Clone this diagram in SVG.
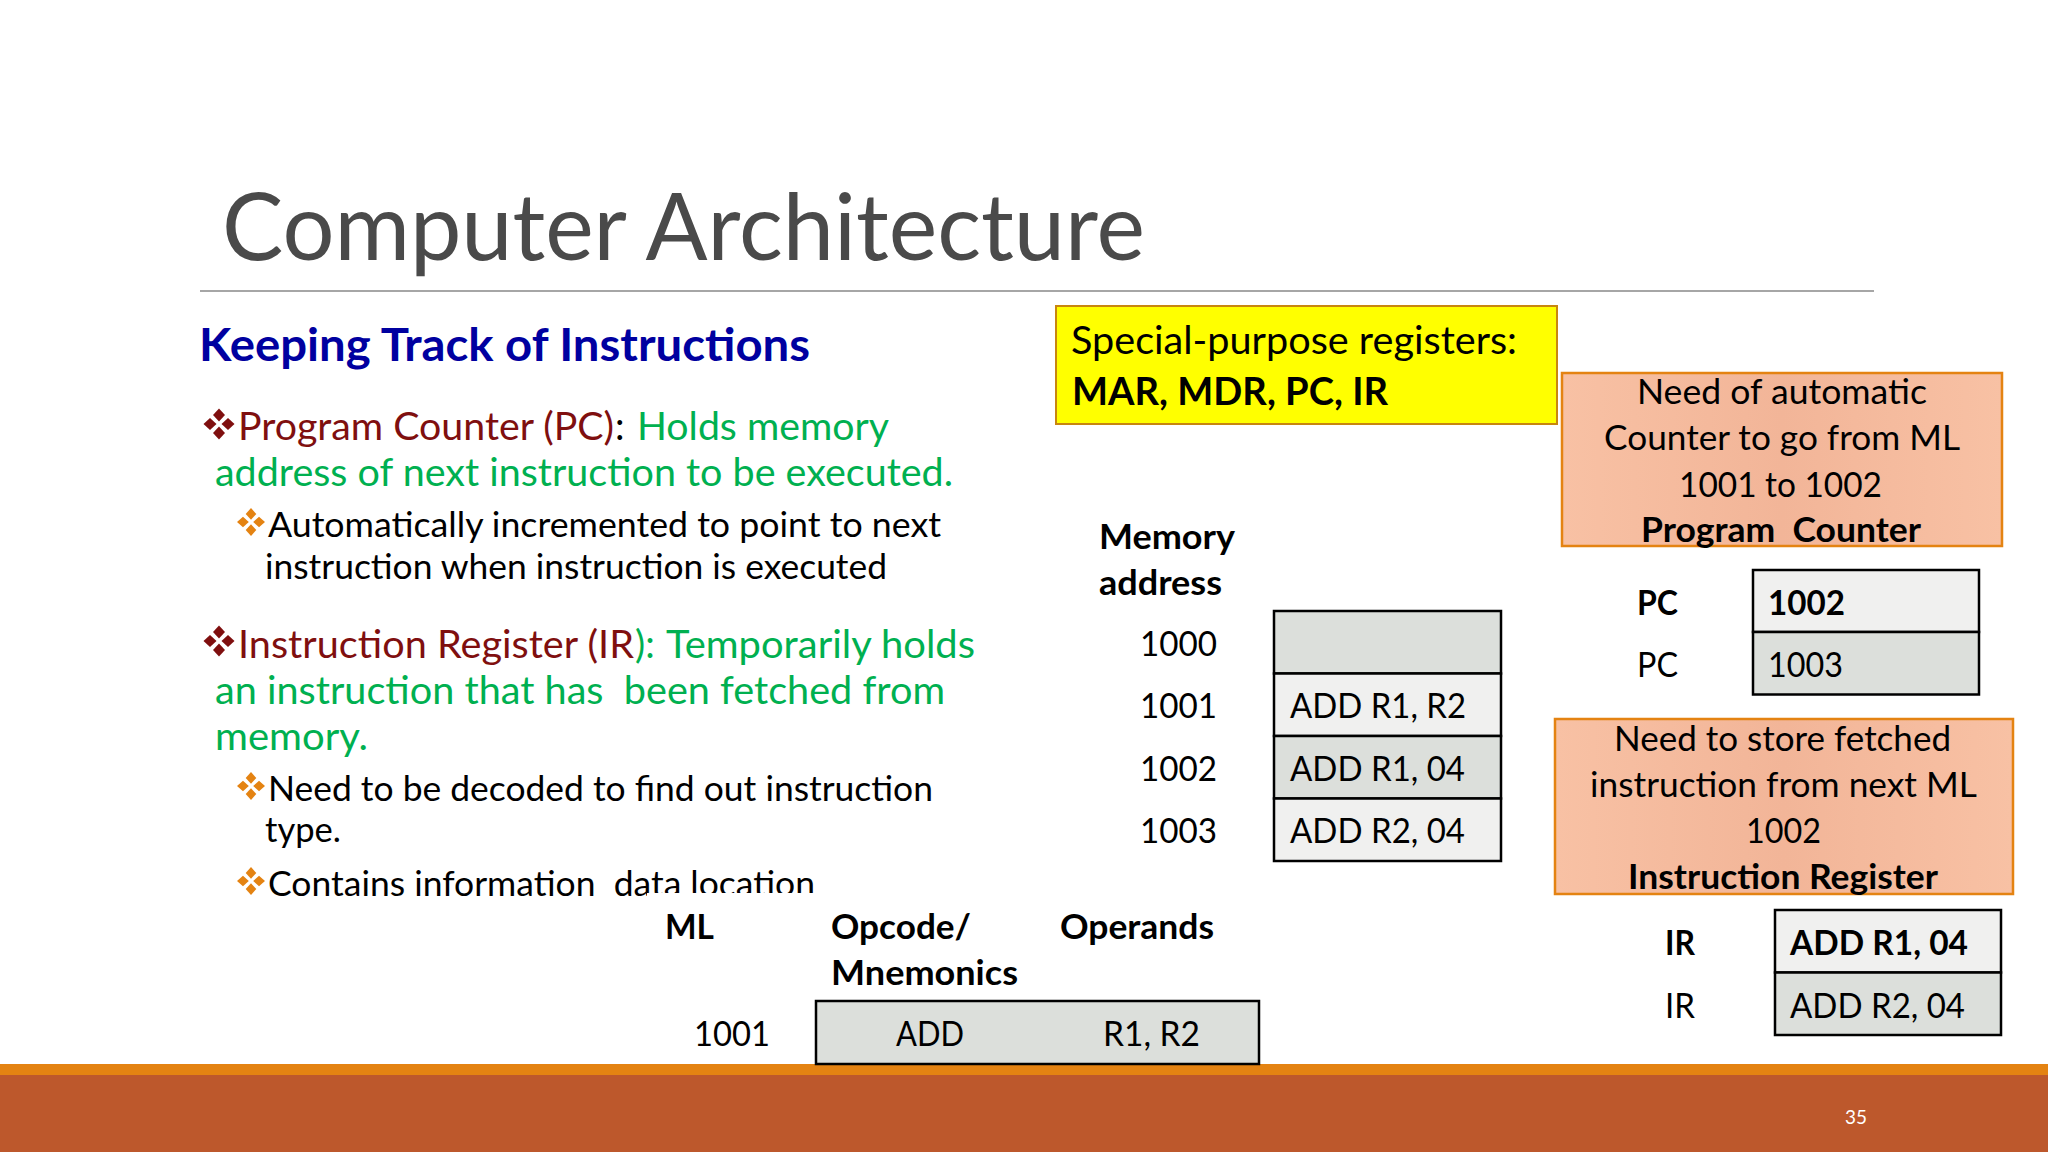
<svg xmlns="http://www.w3.org/2000/svg" width="2048" height="1152" viewBox="0 0 2048 1152">
<style>
text{font-family:"Lato","Carlito","Open Sans",sans-serif;fill:#000;font-size:35px}
.b{font-weight:700}
.t{font-size:94px;font-weight:400;fill:#4a4a4a}
.h{font-size:45px;font-weight:700;fill:#0000a0}
.r{font-size:38px;fill:#7f0f0f}
.g{font-size:38px;fill:#00b050}
.k{font-size:38px;fill:#000}
.s{font-size:35px}
.c{stroke:#000;stroke-width:2.5}
.l{fill:#dcdfdb}
.w{fill:#f0f0ef}
.sal{fill:url(#sg);stroke:#e48312;stroke-width:2.5}
.n{font-size:20px;fill:#fff}
</style>
<defs>
<linearGradient id="sg" x1="0" y1="0" x2="1" y2="0">
<stop offset="0" stop-color="#f8c1a4"/><stop offset="0.5" stop-color="#f2b598"/><stop offset="1" stop-color="#f8c1a4"/>
</linearGradient>
<g id="d1"><polygon points="0,-15.5 6,-9 0,-2.5 -6,-9"/><polygon points="0,15.5 6,9 0,2.5 -6,9"/><polygon points="-15.5,0 -9,-6 -2.5,0 -9,6"/><polygon points="15.5,0 9,-6 2.5,0 9,6"/></g>
<g id="d2"><polygon points="0,-14 5.3,-8 0,-2.2 -5.3,-8"/><polygon points="0,14 5.3,8 0,2.2 -5.3,8"/><polygon points="-14,0 -8,-5.3 -2.2,0 -8,5.3"/><polygon points="14,0 8,-5.3 2.2,0 8,5.3"/></g>
</defs>
<rect width="2048" height="1152" fill="#fff"/>
<g id="title">
<text class="t" x="222" y="260" textLength="923" lengthAdjust="spacingAndGlyphs">Computer Architecture</text>
<rect x="200" y="290" width="1674" height="2" fill="#a6a6a6"/>
</g>
<g id="body">
<text class="h" x="199" y="361" textLength="611" lengthAdjust="spacingAndGlyphs">Keeping Track of Instructions</text>
<use href="#d1" x="219" y="424" fill="#7f0f0f"/>
<text class="r" x="238" y="439.5" textLength="376" lengthAdjust="spacingAndGlyphs">Program Counter (PC)</text>
<text class="k" x="615" y="439.5">:</text>
<text class="g" x="637" y="439.5" textLength="252" lengthAdjust="spacingAndGlyphs">Holds memory</text>
<text class="g" x="215" y="485.5" textLength="738" lengthAdjust="spacingAndGlyphs">address of next instruction to be executed.</text>
<use href="#d2" x="251" y="522" fill="#e48312"/>
<text class="s" x="268" y="536.5" textLength="673" lengthAdjust="spacingAndGlyphs">Automatically incremented to point to next</text>
<text class="s" x="265" y="578.5" textLength="622" lengthAdjust="spacingAndGlyphs">instruction when instruction is executed</text>
<use href="#d1" x="219" y="641" fill="#7f0f0f"/>
<text class="r" x="238" y="657.5" textLength="396" lengthAdjust="spacingAndGlyphs">Instruction Register (IR</text>
<text class="g" x="635" y="657.5">):</text>
<text class="g" x="666" y="657.5" textLength="309" lengthAdjust="spacingAndGlyphs">Temporarily holds</text>
<text class="g" x="215" y="703.5" xml:space="preserve" textLength="730" lengthAdjust="spacingAndGlyphs">an instruction that has  been fetched from</text>
<text class="g" x="215" y="749.5" textLength="153" lengthAdjust="spacingAndGlyphs">memory.</text>
<use href="#d2" x="251" y="786" fill="#e48312"/>
<text class="s" x="268" y="800.5" textLength="665" lengthAdjust="spacingAndGlyphs">Need to be decoded to find out instruction</text>
<text class="s" x="265" y="841.5" textLength="76" lengthAdjust="spacingAndGlyphs">type.</text>
<use href="#d2" x="251" y="881" fill="#e48312"/>
<text class="s" x="268" y="895.5" xml:space="preserve" textLength="547" lengthAdjust="spacingAndGlyphs">Contains information  data location</text>
</g>
<g id="footer">
<rect x="0" y="1075" width="2048" height="77" fill="#bd582c"/>
<rect x="0" y="1064" width="2048" height="11" fill="#e48312"/>
<text class="n" x="1845" y="1124" textLength="22" lengthAdjust="spacingAndGlyphs">35</text>
</g>
<g id="ml-table">
<rect x="647" y="893" width="620" height="171" fill="#fff"/>
<text class="s b" x="665" y="938.5" textLength="49" lengthAdjust="spacingAndGlyphs">ML</text>
<text class="s b" x="831" y="938.5" textLength="140" lengthAdjust="spacingAndGlyphs">Opcode/</text>
<text class="s b" x="831" y="984.5" textLength="187" lengthAdjust="spacingAndGlyphs">Mnemonics</text>
<text class="s b" x="1060" y="938.5" textLength="154" lengthAdjust="spacingAndGlyphs">Operands</text>
<text class="s" x="694" y="1045.5" textLength="76" lengthAdjust="spacingAndGlyphs">1001</text>
<rect class="c l" x="816" y="1001" width="443" height="63"/>
<text class="s" x="896" y="1045.5" textLength="68" lengthAdjust="spacingAndGlyphs">ADD</text>
<text class="s" x="1103" y="1045.5" textLength="97" lengthAdjust="spacingAndGlyphs">R1, R2</text>
</g>
<g id="special-registers">
<rect x="1056" y="306" width="501" height="118" fill="#ffff00" stroke="#c8860f" stroke-width="2"/>
<text class="k" x="1071" y="353.5" textLength="446" lengthAdjust="spacingAndGlyphs">Special-purpose registers:</text>
<text class="k b" x="1072" y="404.5" textLength="316" lengthAdjust="spacingAndGlyphs">MAR, MDR, PC, IR</text>
</g>
<g id="memory">
<text class="s b" x="1099" y="548.5" textLength="136" lengthAdjust="spacingAndGlyphs">Memory</text>
<text class="s b" x="1099" y="594.5" textLength="123" lengthAdjust="spacingAndGlyphs">address</text>
<rect class="c l" x="1274" y="611" width="227" height="62.5"/>
<rect class="c w" x="1274" y="673.5" width="227" height="62.5"/>
<rect class="c l" x="1274" y="736" width="227" height="62.5"/>
<rect class="c w" x="1274" y="798.5" width="227" height="62.5"/>
<text class="s" x="1140" y="655.5" textLength="77" lengthAdjust="spacingAndGlyphs">1000</text>
<text class="s" x="1140" y="718" textLength="77" lengthAdjust="spacingAndGlyphs">1001</text>
<text class="s" x="1140" y="780.5" textLength="77" lengthAdjust="spacingAndGlyphs">1002</text>
<text class="s" x="1140" y="843" textLength="77" lengthAdjust="spacingAndGlyphs">1003</text>
<text class="s" x="1290" y="718" textLength="176" lengthAdjust="spacingAndGlyphs">ADD R1, R2</text>
<text class="s" x="1290" y="780.5" textLength="175" lengthAdjust="spacingAndGlyphs">ADD R1, 04</text>
<text class="s" x="1290" y="843" textLength="175" lengthAdjust="spacingAndGlyphs">ADD R2, 04</text>
</g>
<g id="pc-note">
<rect class="sal" x="1562" y="373" width="440" height="173"/>
<text class="s" x="1637" y="403.5" textLength="290" lengthAdjust="spacingAndGlyphs">Need of automatic</text>
<text class="s" x="1604" y="449.5" textLength="356" lengthAdjust="spacingAndGlyphs">Counter to go from ML</text>
<text class="s" x="1679" y="496.5" textLength="203" lengthAdjust="spacingAndGlyphs">1001 to 1002</text>
<text class="s b" x="1641" y="542" xml:space="preserve" textLength="280" lengthAdjust="spacingAndGlyphs">Program  Counter</text>
</g>
<g id="pc-table">
<text class="s b" x="1637" y="615" textLength="41" lengthAdjust="spacingAndGlyphs">PC</text>
<text class="s" x="1637" y="677" textLength="41" lengthAdjust="spacingAndGlyphs">PC</text>
<rect class="c w" x="1753" y="570" width="226" height="62"/>
<rect class="c l" x="1753" y="632" width="226" height="62.5"/>
<text class="s b" x="1768" y="615" textLength="77" lengthAdjust="spacingAndGlyphs">1002</text>
<text class="s" x="1768" y="677" textLength="75" lengthAdjust="spacingAndGlyphs">1003</text>
</g>
<g id="ir-note">
<rect class="sal" x="1555" y="719" width="458" height="175"/>
<text class="s" x="1614" y="751" textLength="337" lengthAdjust="spacingAndGlyphs">Need to store fetched</text>
<text class="s" x="1590" y="797" textLength="387" lengthAdjust="spacingAndGlyphs">instruction from next ML</text>
<text class="s" x="1746" y="843" textLength="75" lengthAdjust="spacingAndGlyphs">1002</text>
<text class="s b" x="1628" y="889" textLength="310" lengthAdjust="spacingAndGlyphs">Instruction Register</text>
</g>
<g id="ir-table">
<text class="s b" x="1665" y="954.5" textLength="30" lengthAdjust="spacingAndGlyphs">IR</text>
<text class="s" x="1665" y="1017.5" textLength="30" lengthAdjust="spacingAndGlyphs">IR</text>
<rect class="c w" x="1775" y="910" width="226" height="62.5"/>
<rect class="c l" x="1775" y="972.5" width="226" height="62.5"/>
<text class="s b" x="1790" y="954.5" textLength="178" lengthAdjust="spacingAndGlyphs">ADD R1, 04</text>
<text class="s" x="1790" y="1017.5" textLength="175" lengthAdjust="spacingAndGlyphs">ADD R2, 04</text>
</g>
</svg>
